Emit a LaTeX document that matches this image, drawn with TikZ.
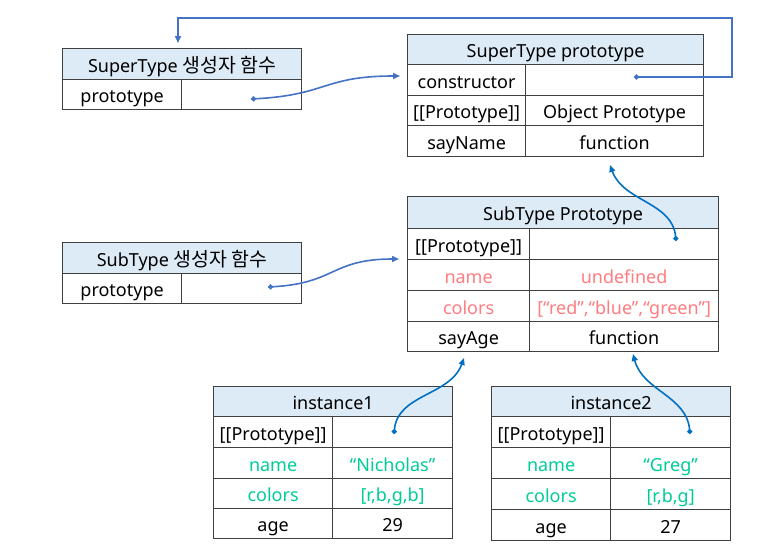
\documentclass[tikz,border=0pt]{standalone}
\usepackage{fontspec}
\setmainfont{Noto Sans}
\newfontfamily\krfont[Scale=1.08]{Noto Sans CJK KR}
\usetikzlibrary{arrows.meta}

\definecolor{headblue}{RGB}{221,235,247}
\definecolor{linegray}{RGB}{64,64,64}
\definecolor{shadowred}{RGB}{255,124,128}
\definecolor{ownteal}{RGB}{0,204,153}
\definecolor{linkblue}{RGB}{68,114,196}
\definecolor{protoblue}{RGB}{0,112,192}

\begin{document}
\begin{tikzpicture}[x=1pt, y=-1pt,
    every node/.style={font=\fontsize{18}{21}\selectfont},
    cell/.style={rectangle, draw=linegray, line width=1.2pt, anchor=north west,
                 inner sep=0pt, minimum height=31pt, text height=19pt, text depth=3pt},
    head/.style={cell, fill=headblue},
    shadowed/.style={text=shadowred},
    own/.style={text=ownteal},
    link/.style={linkblue, line width=1.6pt,
                 {Circle[length=5pt]}-{Triangle[length=7pt,width=6pt]}},
    protolink/.style={protoblue, line width=1.6pt,
                 {Circle[length=5pt]}-{Triangle[length=7pt,width=6pt]}}]
      \useasboundingbox (0,0) rectangle (761,555);

      % SuperType constructor
      \node at(62,48) [head, minimum width=239] (supctor) {SuperType {\krfont 생성자 함수}};
      \node at(62,79) [cell, minimum width=119, minimum height=30] (supctor-k1) {prototype};
      \node at(181,79) [cell, minimum width=120, minimum height=30] (supctor-v1) {};

      % SuperType prototype
      \node at(407,34) [head, minimum width=296, minimum height=30] (supproto) {SuperType prototype};
      \node at(407,64) [cell, minimum width=118] (supproto-k1) {constructor};
      \node at(525,64) [cell, minimum width=178] (supproto-v1) {};
      \node at(407,95) [cell, minimum width=118, minimum height=30] (supproto-k2) {[[Prototype]]};
      \node at(525,95) [cell, minimum width=178, minimum height=30] (supproto-v2) {Object Prototype};
      \node at(407,125) [cell, minimum width=118] (supproto-k3) {sayName};
      \node at(525,125) [cell, minimum width=178] (supproto-v3) {function};

      % SubType constructor
      \node at(62,242) [head, minimum width=239] (subctor) {SubType {\krfont 생성자 함수}};
      \node at(62,273) [cell, minimum width=119, minimum height=30] (subctor-k1) {prototype};
      \node at(181,273) [cell, minimum width=120, minimum height=30] (subctor-v1) {};

      % SubType prototype
      \node at(407,196) [head, minimum width=311, minimum height=32] (subproto) {SubType Prototype};
      \node at(407,228) [cell, minimum width=122] (subproto-k1) {[[Prototype]]};
      \node at(529,228) [cell, minimum width=189] (subproto-v1) {};
      \node at(407,259) [cell, minimum width=122, shadowed] (subproto-k2) {name};
      \node at(529,259) [cell, minimum width=189, shadowed] (subproto-v2) {undefined};
      \node at(407,290) [cell, minimum width=122, shadowed] (subproto-k3) {colors};
      \node at(529,290) [cell, minimum width=189, shadowed] (subproto-v3) {[“red”,“blue”,“green”]};
      \node at(407,321) [cell, minimum width=122, minimum height=30] (subproto-k4) {sayAge};
      \node at(529,321) [cell, minimum width=189, minimum height=30] (subproto-v4) {function};

      % instance1
      \node at(213,386) [head, minimum width=239, minimum height=30] (inst1) {instance1};
      \node at(213,416) [cell, minimum width=119] (inst1-k1) {[[Prototype]]};
      \node at(332,416) [cell, minimum width=120] (inst1-v1) {};
      \node at(213,447) [cell, minimum width=119, own] (inst1-k2) {name};
      \node at(332,447) [cell, minimum width=120, own] (inst1-v2) {“Nicholas”};
      \node at(213,478) [cell, minimum width=119, minimum height=30, own] (inst1-k3) {colors};
      \node at(332,478) [cell, minimum width=120, minimum height=30, own] (inst1-v3) {[r,b,g,b]};
      \node at(213,508) [cell, minimum width=119, minimum height=30] (inst1-k4) {age};
      \node at(332,508) [cell, minimum width=120, minimum height=30] (inst1-v4) {29};

      % instance2
      \node at(491,386) [head, minimum width=239, minimum height=30] (inst2) {instance2};
      \node at(491,416) [cell, minimum width=119] (inst2-k1) {[[Prototype]]};
      \node at(610,416) [cell, minimum width=120] (inst2-v1) {};
      \node at(491,447) [cell, minimum width=119, own] (inst2-k2) {name};
      \node at(610,447) [cell, minimum width=120, own] (inst2-v2) {“Greg”};
      \node at(491,478) [cell, minimum width=119, minimum height=31, own] (inst2-k3) {colors};
      \node at(610,478) [cell, minimum width=120, minimum height=31, own] (inst2-v3) {[r,b,g]};
      \node at(491,509) [cell, minimum width=119, minimum height=31] (inst2-k4) {age};
      \node at(610,509) [cell, minimum width=120, minimum height=31] (inst2-v4) {27};

      % pointer ends
      \coordinate (supctor-dot) at (251,99);
      \coordinate (supproto-in) at (400,76);
      \coordinate (supproto-dot) at (634,77);
      \coordinate (supctor-in) at (178,43);
      \coordinate (subctor-dot) at (268,287);
      \coordinate (subproto-in) at (399,259);
      \coordinate (subproto-dot) at (676,241);
      \coordinate (supproto-out) at (610,165);
      \coordinate (inst1-dot) at (394,434);
      \coordinate (subproto-out1) at (464,358);
      \coordinate (inst2-dot) at (690,434);
      \coordinate (subproto-out2) at (633,354);

      \draw[link] (supctor-dot) to[out=3, in=180, looseness=1.3] (supproto-in);
      \draw[link] (supproto-dot) -- (732,77) -- (732,18) -| (supctor-in);
      \draw[link] (subctor-dot) to[out=3, in=180, looseness=1.3] (subproto-in);
      \draw[protolink] (subproto-dot) to[out=95, in=-70] (supproto-out);
      \draw[protolink] (inst1-dot) to[out=85, in=-110] (subproto-out1);
      \draw[protolink] (inst2-dot) to[out=95, in=-75] (subproto-out2);
\end{tikzpicture}
\end{document}
